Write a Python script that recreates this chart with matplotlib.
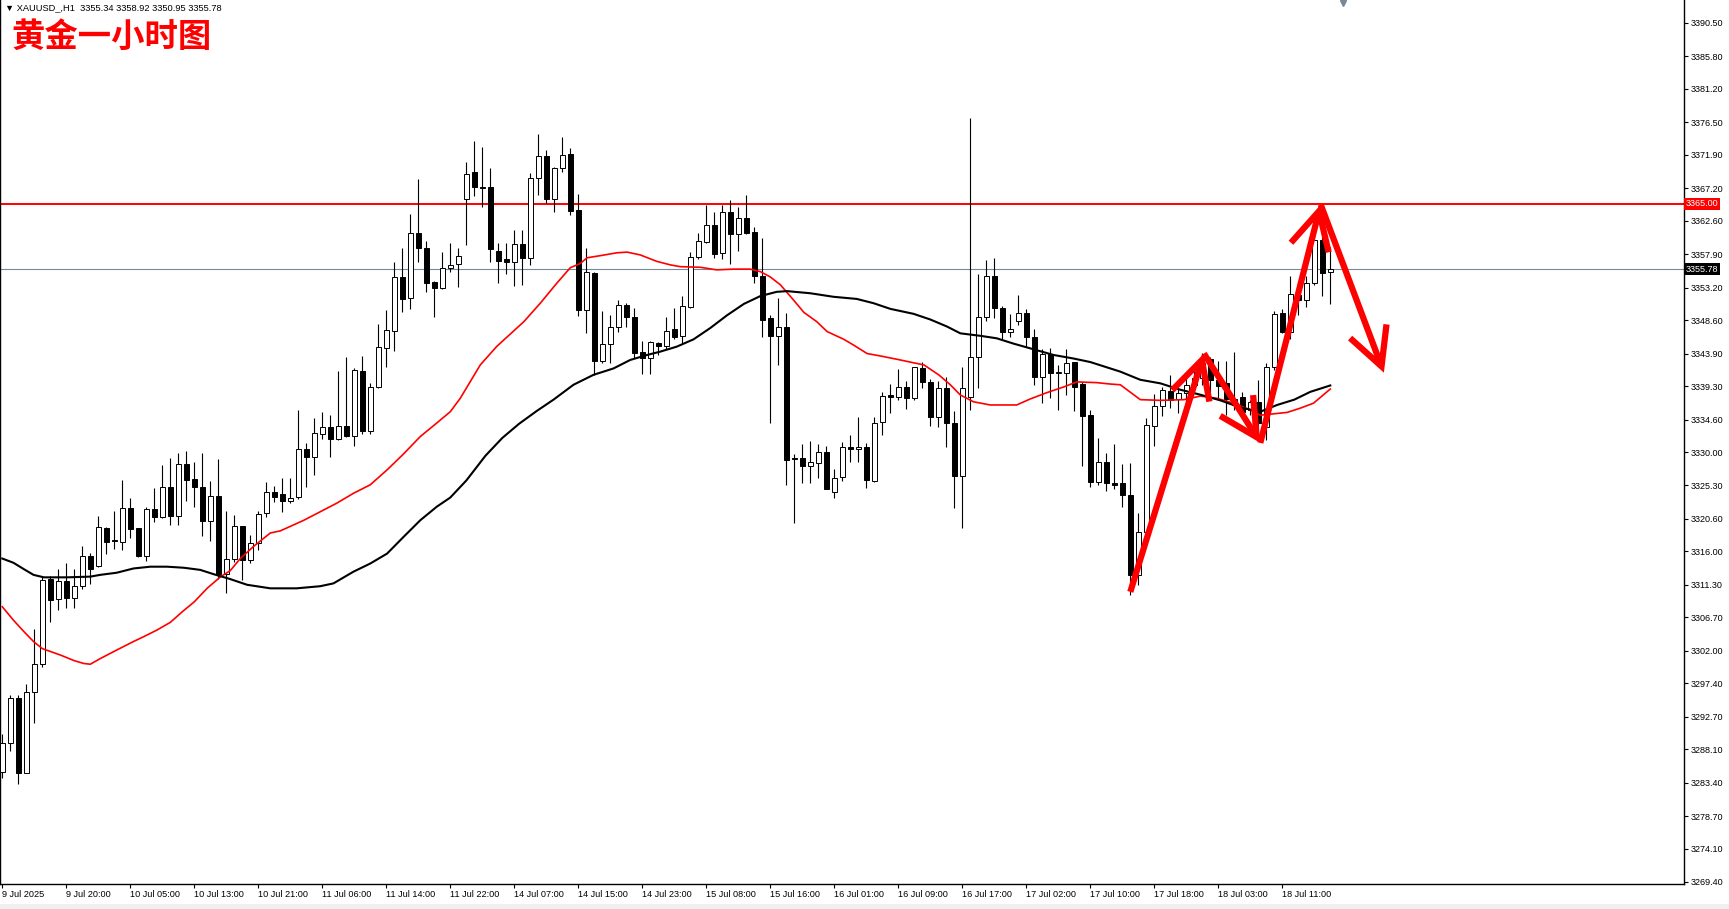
import numpy as np
import matplotlib
matplotlib.use('Agg')
import matplotlib.pyplot as plt
from matplotlib import font_manager
from matplotlib.transforms import blended_transform_factory

# ---- data (bar 0 = 9 Jul 12:00) ----
opens = [3284.95, 3288.95, 3295.29, 3284.72, 3296.14, 3300.09, 3312.12, 3309.25, 3311.83, 3309.48,
         3311.13, 3315.36, 3313.95, 3319.26, 3317.60, 3317.38, 3322.08, 3319.30, 3315.36, 3321.94,
         3320.90, 3325.04, 3321.04, 3328.33, 3326.16, 3325.04, 3320.34, 3323.82, 3312.82, 3314.89,
         3319.64, 3314.80, 3317.15, 3321.38, 3324.43, 3324.06, 3323.17, 3323.73, 3330.40, 3329.27,
         3332.51, 3333.60, 3331.81, 3333.74, 3332.33, 3341.44, 3333.03, 3339.14, 3344.73, 3347.13,
         3354.65, 3351.69, 3360.85, 3358.74, 3353.94, 3353.10, 3355.92, 3356.48, 3365.65, 3369.45,
         3367.43, 3367.34, 3358.41, 3357.19, 3356.86, 3359.30, 3357.33, 3368.61, 3371.75, 3365.69,
         3370.02, 3372.04, 3364.14, 3350.04, 3355.21, 3342.90, 3345.25, 3347.60, 3350.75, 3349.01,
         3344.08, 3343.30, 3345.35, 3344.97, 3347.32, 3346.42, 3350.51, 3357.56, 3359.68, 3362.03,
         3358.03, 3363.81, 3360.71, 3362.97, 3360.99, 3354.88, 3348.87, 3346.42, 3347.60, 3329.13,
         3329.13, 3328.10, 3328.52, 3330.07, 3324.34, 3326.54, 3330.68, 3330.40, 3330.78, 3325.94,
         3334.21, 3338.06, 3337.82, 3339.14, 3337.59, 3341.91, 3339.84, 3334.91, 3338.99, 3334.06,
         3326.69, 3337.73, 3343.37, 3349.00, 3354.83, 3350.28, 3346.99, 3348.48, 3349.57, 3346.28,
         3340.64, 3343.84, 3341.21, 3341.21, 3342.66, 3339.61, 3335.24, 3325.84, 3328.57, 3325.60,
         3325.60, 3323.96, 3312.68, 3318.79, 3333.69, 3336.51, 3338.62, 3337.45, 3338.29, 3339.50,
         3340.50, 3343.09, 3340.20, 3339.80, 3337.50, 3337.82, 3335.94, 3337.02, 3333.50, 3341.96,
         3349.57, 3346.99, 3352.20, 3351.45, 3353.90, 3359.91, 3355.34]
highs = [3290.26, 3295.76, 3295.76, 3297.31, 3305.02, 3312.58, 3312.58, 3313.48, 3314.42, 3313.48,
         3316.77, 3315.83, 3321.00, 3319.49, 3321.75, 3326.07, 3323.49, 3319.30, 3322.22, 3324.90,
         3328.19, 3329.13, 3329.92, 3330.21, 3328.66, 3329.92, 3325.98, 3328.99, 3321.75, 3321.14,
         3319.64, 3318.33, 3321.71, 3325.75, 3325.23, 3326.31, 3326.31, 3335.95, 3331.25, 3334.77,
         3335.71, 3335.24, 3341.49, 3343.37, 3341.82, 3343.56, 3339.71, 3348.07, 3350.04, 3356.76,
         3358.74, 3363.58, 3368.46, 3359.82, 3354.18, 3358.17, 3359.44, 3358.83, 3370.86, 3373.87,
         3372.98, 3370.02, 3359.54, 3359.54, 3361.32, 3361.32, 3369.41, 3374.86, 3372.60, 3370.25,
         3374.48, 3372.84, 3366.40, 3358.74, 3355.45, 3349.90, 3349.34, 3351.45, 3351.08, 3350.28,
         3345.72, 3345.72, 3345.58, 3349.01, 3350.28, 3352.02, 3358.27, 3360.85, 3364.85, 3363.91,
         3364.85, 3365.55, 3364.52, 3366.26, 3361.70, 3360.15, 3349.34, 3351.69, 3349.67, 3329.74,
         3331.11, 3331.58, 3331.11, 3330.87, 3327.58, 3331.48, 3332.42, 3334.91, 3331.25, 3334.91,
         3338.53, 3339.61, 3341.72, 3340.03, 3342.05, 3342.76, 3340.27, 3340.08, 3340.64, 3335.85,
         3342.05, 3377.06, 3355.12, 3357.09, 3357.32, 3350.60, 3349.48, 3352.16, 3350.13, 3347.31,
         3344.50, 3344.64, 3342.29, 3344.54, 3342.76, 3339.94, 3335.94, 3331.95, 3329.93, 3331.15,
         3328.33, 3328.43, 3321.38, 3334.77, 3338.15, 3339.23, 3340.88, 3338.86, 3340.64, 3341.50,
         3344.00, 3343.46, 3342.80, 3342.85, 3344.07, 3338.53, 3337.35, 3340.17, 3342.52, 3349.95,
         3350.18, 3354.84, 3353.80, 3354.84, 3361.00, 3360.38, 3358.92]
lows = [3284.00, 3287.92, 3283.22, 3284.72, 3291.77, 3299.66, 3306.10, 3307.75, 3307.98, 3308.07,
        3310.66, 3311.36, 3313.76, 3315.64, 3316.30, 3316.20, 3317.85, 3315.17, 3314.70, 3320.20,
        3320.67, 3319.73, 3319.73, 3323.16, 3322.31, 3318.18, 3317.52, 3312.07, 3310.19, 3314.56,
        3311.98, 3314.33, 3316.21, 3320.91, 3323.02, 3321.61, 3322.79, 3323.36, 3325.14, 3326.78,
        3331.91, 3329.37, 3331.72, 3332.19, 3330.87, 3332.56, 3332.56, 3339.10, 3342.06, 3344.31,
        3349.71, 3350.19, 3356.86, 3352.63, 3349.10, 3352.96, 3355.45, 3353.33, 3359.21, 3366.12,
        3364.61, 3356.86, 3353.90, 3355.12, 3353.47, 3353.57, 3356.39, 3366.26, 3365.18, 3363.81,
        3369.55, 3363.44, 3349.20, 3346.85, 3340.88, 3342.62, 3342.62, 3346.99, 3347.60, 3343.23,
        3341.02, 3341.02, 3343.70, 3344.50, 3345.91, 3345.34, 3350.28, 3357.23, 3359.54, 3357.33,
        3357.23, 3356.53, 3358.41, 3360.76, 3353.90, 3346.28, 3334.16, 3342.29, 3325.37, 3320.06,
        3325.70, 3325.61, 3326.41, 3324.76, 3323.49, 3326.00, 3328.66, 3328.66, 3324.91, 3325.84,
        3332.42, 3335.47, 3337.35, 3336.04, 3337.35, 3339.00, 3333.69, 3333.59, 3330.77, 3322.08,
        3319.36, 3335.94, 3339.00, 3348.53, 3348.86, 3345.90, 3346.19, 3347.93, 3344.87, 3339.47,
        3336.97, 3337.59, 3335.94, 3338.06, 3335.85, 3328.05, 3325.04, 3325.37, 3324.57, 3324.76,
        3322.22, 3309.87, 3311.28, 3317.60, 3330.87, 3335.10, 3336.18, 3335.48, 3337.12, 3338.50,
        3339.50, 3338.50, 3337.50, 3335.24, 3335.95, 3334.77, 3335.24, 3332.89, 3331.72, 3341.58,
        3346.75, 3346.00, 3349.30, 3350.51, 3353.57, 3352.02, 3350.95]
closes = [3288.95, 3295.29, 3284.72, 3296.14, 3300.09, 3311.97, 3309.16, 3311.83, 3309.39, 3311.13,
          3315.36, 3313.48, 3319.40, 3317.38, 3317.47, 3322.08, 3319.16, 3315.36, 3321.94, 3320.90,
          3325.04, 3321.04, 3328.33, 3326.07, 3325.04, 3320.34, 3323.82, 3312.82, 3314.89, 3319.64,
          3314.80, 3317.15, 3321.24, 3324.43, 3323.73, 3323.17, 3323.59, 3330.40, 3329.27, 3332.66,
          3333.50, 3331.81, 3333.74, 3332.28, 3341.59, 3332.99, 3339.14, 3344.78, 3347.22, 3354.65,
          3351.59, 3360.85, 3358.74, 3353.90, 3353.10, 3355.92, 3356.34, 3357.66, 3369.22, 3367.43,
          3367.29, 3358.60, 3357.00, 3356.86, 3359.35, 3357.33, 3368.61, 3371.75, 3365.69, 3370.02,
          3371.90, 3364.05, 3350.04, 3355.35, 3342.90, 3345.25, 3347.60, 3350.75, 3349.01, 3344.03,
          3343.23, 3345.49, 3344.97, 3347.13, 3346.28, 3350.61, 3357.56, 3359.77, 3362.03, 3357.94,
          3363.81, 3360.76, 3362.97, 3360.95, 3354.88, 3348.63, 3346.42, 3347.60, 3328.90, 3328.99,
          3328.05, 3328.66, 3330.07, 3324.76, 3326.40, 3330.68, 3330.40, 3330.68, 3326.07, 3334.07,
          3337.97, 3337.82, 3339.14, 3337.59, 3341.96, 3339.94, 3334.91, 3338.99, 3334.06, 3326.69,
          3338.99, 3343.37, 3349.10, 3354.83, 3350.28, 3346.99, 3347.32, 3349.57, 3346.28, 3340.64,
          3343.84, 3341.11, 3341.21, 3342.62, 3339.23, 3335.15, 3325.84, 3328.57, 3325.60, 3325.37,
          3323.96, 3312.68, 3318.79, 3333.83, 3336.51, 3338.76, 3337.35, 3338.29, 3339.47, 3340.50,
          3342.50, 3340.17, 3339.30, 3337.45, 3336.60, 3335.71, 3337.02, 3334.06, 3341.96, 3349.43,
          3346.99, 3352.25, 3351.50, 3353.90, 3359.91, 3355.31, 3355.78]

# moving averages, sampled along the curves (bar index, price)
ma_red_x = [0, 1.4, 2.7, 3.9, 5.0, 7.25, 9.0, 10.2, 11.0, 12.25, 14.3, 16.4, 17.7, 19.3, 21.0, 22.5,
            24.0, 25.6, 27.25, 28.5, 29.75, 31.4, 33.5, 34.75, 37.7, 39.75, 41.8, 43.9, 46.0, 48.1,
            50.2, 52.25, 54.3, 56.0, 57.25, 59.75, 61.8, 65.2, 67.25, 69.3, 71.0, 72.25, 73.1, 74.75,
            76.8, 78.1, 79.75, 81.8, 83.5, 84.75, 87.25, 89.3, 91.4, 93.5, 94.75, 96.0, 97.25, 98.9,
            100.2, 101.8, 103.1, 105.2, 106.4, 108.1, 109.75, 111.8, 113.9, 115.2, 117.05, 118.5,
            119.75, 121.4, 123.5, 126.8, 128.5, 130.6, 132.7, 134.3, 136.8, 138.5, 139.75, 142.25,
            144.75, 147.7, 149.75, 151.8, 153.9, 156.0, 157.25, 158.9, 160.6, 162.25, 163.9, 166.0]
ma_red_y = [3308.2, 3306.3, 3304.7, 3303.3, 3302.3, 3301.4, 3300.6, 3300.2, 3300.1, 3300.9, 3302.1,
            3303.3, 3304.0, 3304.9, 3306.0, 3307.5, 3308.9, 3310.8, 3312.4, 3313.3, 3315.0, 3316.7,
            3318.6, 3318.9, 3320.4, 3321.6, 3322.8, 3324.2, 3325.4, 3327.5, 3329.8, 3332.2, 3334.1,
            3335.7, 3337.6, 3342.3, 3344.9, 3348.4, 3351.0, 3353.8, 3356.0, 3356.6, 3357.4, 3357.7,
            3358.1, 3358.2, 3357.8, 3356.9, 3356.4, 3356.15, 3356.06, 3355.7, 3355.8, 3355.8, 3355.45,
            3354.7, 3353.6, 3351.45, 3349.7, 3348.4, 3347.0, 3345.9, 3345.1, 3343.9, 3343.56, 3343.1,
            3342.6, 3342.3, 3340.9, 3339.5, 3338.06, 3337.1, 3336.65, 3336.65, 3337.5, 3338.4, 3339.2,
            3339.9, 3339.8, 3339.6, 3339.5, 3337.4, 3337.3, 3337.4, 3337.9, 3337.6, 3336.9, 3335.95,
            3335.2, 3335.4, 3335.6, 3336.2, 3336.9, 3338.9]
ma_black_x = [0, 1.4, 2.7, 3.9, 5.2, 8.1, 11.0, 12.25, 14.3, 16.4, 18.5, 20.6, 22.7, 24.75, 26.4,
              28.5, 30.6, 33.5, 36.8, 39.75, 41.4, 43.9, 46.0, 48.1, 50.2, 52.25, 54.3, 56.0, 58.0,
              60.4, 62.5, 64.6, 66.8, 68.9, 71.4, 73.9, 76.4, 78.5, 80.6, 82.25, 84.3, 86.4, 88.5,
              90.6, 92.7, 94.75, 96.8, 98.1, 101.0, 103.9, 106.8, 108.9, 111.0, 113.9, 116.0, 118.1,
              119.75, 122.25, 124.3, 126.4, 128.9, 131.4, 133.9, 136.0, 138.5, 139.75, 142.25, 144.75,
              147.25, 149.75, 152.25, 154.75, 157.25, 159.35, 161.5, 163.5, 166.0]
ma_black_y = [3315.0, 3314.4, 3313.5, 3312.7, 3312.35, 3312.35, 3312.45, 3312.7, 3313.0, 3313.6,
              3313.85, 3313.85, 3313.7, 3313.4, 3312.8, 3312.1, 3311.3, 3310.8, 3310.8, 3311.1,
              3311.5, 3313.15, 3314.3, 3315.7, 3318.1, 3320.4, 3322.3, 3323.6, 3326.0, 3329.5,
              3332.0, 3334.0, 3335.8, 3337.4, 3339.5, 3340.9, 3341.8, 3343.0, 3343.7, 3344.17,
              3344.87, 3345.9, 3347.5, 3349.3, 3350.9, 3352.0, 3352.6, 3352.7, 3352.4, 3351.9,
              3351.6, 3351.0, 3350.2, 3349.5, 3348.7, 3347.7, 3346.75, 3346.4, 3346.05, 3345.3,
              3344.5, 3343.7, 3343.2, 3342.7, 3341.8, 3341.35, 3340.2, 3339.7, 3338.8, 3338.1,
              3337.3, 3336.3, 3335.7, 3336.65, 3337.4, 3338.5, 3339.4]

# hand drawn zig-zag arrows (bar index, price)
arrow_pts = [(141.0, 3310.3), (150.2, 3343.9), (157.25, 3331.3), (164.8, 3364.9), (172.7, 3341.2)]

level_line = 3365.00
last_price = 3355.78
header = '▼ XAUUSD_,H1  3355.34 3358.92 3350.95 3355.78'
title = '黄金一小时图'

xtick_pos = list(range(0, 161, 8))
xtick_labels = ['9 Jul 2025', '9 Jul 20:00', '10 Jul 05:00', '10 Jul 13:00', '10 Jul 21:00',
                '11 Jul 06:00', '11 Jul 14:00', '11 Jul 22:00', '14 Jul 07:00', '14 Jul 15:00',
                '14 Jul 23:00', '15 Jul 08:00', '15 Jul 16:00', '16 Jul 01:00', '16 Jul 09:00',
                '16 Jul 17:00', '17 Jul 02:00', '17 Jul 10:00', '17 Jul 18:00', '18 Jul 03:00',
                '18 Jul 11:00']
ytick_vals = [3390.50, 3385.80, 3381.20, 3376.50, 3371.90, 3367.20, 3362.60, 3357.90, 3353.20,
              3348.60, 3343.90, 3339.30, 3334.60, 3330.00, 3325.30, 3320.60, 3316.00, 3311.30,
              3306.70, 3302.00, 3297.40, 3292.70, 3288.10, 3283.40, 3278.70, 3274.10, 3269.40]

fams = {f.name for f in font_manager.fontManager.ttflist}
narrow = 'Liberation Sans Narrow' if 'Liberation Sans Narrow' in fams else 'Liberation Sans'

W, H = 1729, 909
fig = plt.figure(figsize=(W / 100, H / 100), dpi=100)
fig.patch.set_facecolor('white')
ax = fig.add_axes([0, 25 / H, 1684 / W, 884 / H])

o = np.array(opens); h = np.array(highs); l = np.array(lows); c = np.array(closes)
x = np.arange(len(o))
up = c >= o
ax.vlines(x, l, h, color='black', lw=0.8, zorder=3)
ax.bar(x, np.maximum(np.abs(c - o), 0.06), bottom=np.minimum(o, c), width=0.62,
       color=np.where(up, 'white', 'black'), edgecolor='black', linewidth=0.7, zorder=3.5)

ax.axhline(level_line, color='#ff0000', lw=1.4, zorder=2)
ax.axhline(last_price, color='#778899', lw=0.8, zorder=2)

ax.plot(ma_red_x, ma_red_y, color='#ff0000', lw=1.2, zorder=4)
ax.plot(ma_black_x, ma_black_y, color='black', lw=1.5, zorder=4)

for (x0, y0), (x1, y1) in zip(arrow_pts[:-1], arrow_pts[1:]):
    ax.annotate('', xy=(x1, y1), xytext=(x0, y0),
                arrowprops=dict(arrowstyle='->,head_length=1.35,head_width=0.7', color='#ff0000',
                                lw=4.5, shrinkA=0, shrinkB=0, mutation_scale=20,
                                joinstyle='miter', capstyle='butt'), zorder=6)

ax.set_xlim((0 - 2.3) / 8, (1684 - 2.3) / 8)
ax.set_ylim(3390.50 - 861 * 0.14098, 3390.50 + 23 * 0.14098)

ax.yaxis.tick_right()
ax.set_yticks(ytick_vals)
ax.set_yticklabels(['%.2f' % v for v in ytick_vals], family='Liberation Sans', fontsize=6.5)
ax.tick_params(axis='y', direction='out', length=3, width=0.8, pad=1.5, colors='black')
ax.set_xticks(xtick_pos)
ax.set_xticklabels(xtick_labels, family=narrow, fontsize=6.6)
ax.tick_params(axis='x', direction='out', length=3, width=0.8, pad=1.5)
for lab in ax.get_xticklabels():
    lab.set_horizontalalignment('left')

for s in ['left', 'bottom', 'right']:
    ax.spines[s].set_color('black')
    ax.spines[s].set_linewidth(1.0)
ax.spines['top'].set_visible(False)

tr = blended_transform_factory(ax.transAxes, ax.transData)
ax.text(1.0012, level_line, '%.2f' % level_line, transform=tr, ha='left', va='center',
        fontsize=6.5, family='Liberation Sans', color='white', clip_on=False, zorder=10,
        bbox=dict(boxstyle='square,pad=0.18', fc='#ff0000', ec='none'))
ax.text(1.0012, last_price, '%.2f' % last_price, transform=tr, ha='left', va='center',
        fontsize=6.5, family='Liberation Sans', color='white', clip_on=False, zorder=10,
        bbox=dict(boxstyle='square,pad=0.18', fc='black', ec='none'))

# chart shift marker at the top
ax.plot([167.6], [3393.3], marker='v', color='#7a8796', ms=5, clip_on=False, zorder=10)

fig.text(5 / W, 1 - 3 / H, header, ha='left', va='top', fontsize=6.7,
         family=['Liberation Sans', 'DejaVu Sans'], color='black')
fig.text(11 / W, 1 - 37 / H, title, ha='left', va='center', fontsize=24,
         family=['Noto Sans CJK SC', 'DejaVu Sans'], fontweight='bold', color='#ff0000')

fig.patches.append(plt.Rectangle((0, 0), 1, 5 / H, transform=fig.transFigure,
                                 fc='#f0f0f0', ec='none', zorder=0))

fig.savefig('out.png', dpi=100)
